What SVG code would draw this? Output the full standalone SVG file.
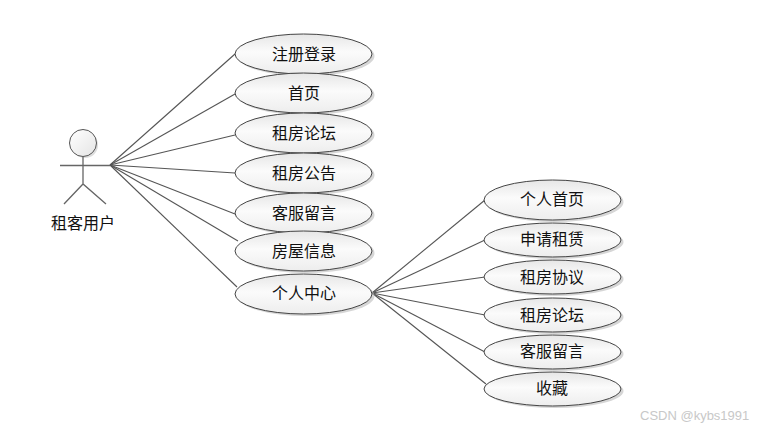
<svg xmlns="http://www.w3.org/2000/svg" width="764" height="428" viewBox="0 0 764 428">
<style>
text{font-family:"Noto Sans CJK SC","Liberation Sans",sans-serif;font-size:16px;fill:#111;text-anchor:middle}
.s{fill:#bbb;stroke:none;opacity:.6}
.e{fill:url(#g);stroke:#444;stroke-width:1}
.c line{stroke:#555;stroke-width:1.100}
.a{stroke:#666;stroke-width:1.300;fill:none}
.w{font-family:"Liberation Sans",sans-serif;font-size:13px;fill:#c8c8c8;text-anchor:start}
</style>
<defs>
<linearGradient id="g" x1="0" y1="0" x2="0" y2="1"><stop offset="0" stop-color="#e6e6e6"/><stop offset=".45" stop-color="#fbfbfb"/><stop offset="1" stop-color="#ededed"/></linearGradient>
<linearGradient id="h" x1="0" y1="0" x2="1" y2="1"><stop offset="0" stop-color="#fff"/><stop offset="1" stop-color="#e4e4e4"/></linearGradient>
</defs>
<rect width="764" height="428" fill="#fff"/>
<g class="c">
<line x1="110" y1="165" x2="235" y2="54"/>
<line x1="110" y1="165" x2="235" y2="94"/>
<line x1="110" y1="165" x2="235" y2="135"/>
<line x1="110" y1="165" x2="235" y2="173"/>
<line x1="110" y1="165" x2="235" y2="214"/>
<line x1="110" y1="165" x2="238" y2="241"/>
<line x1="110" y1="165" x2="237" y2="287"/>
<line x1="372" y1="293" x2="485" y2="200"/>
<line x1="372" y1="293" x2="485" y2="240"/>
<line x1="372" y1="293" x2="485" y2="277"/>
<line x1="372" y1="293" x2="485" y2="315"/>
<line x1="372" y1="293" x2="485" y2="352"/>
<line x1="372" y1="293" x2="486" y2="384"/>
</g>
<g id="actor">
<circle cx="85" cy="145" r="13" fill="#aaa" opacity=".4"/>
<circle cx="83" cy="143" r="13.500" fill="url(#h)" stroke="#555"/>
<path class="a" d="M83 157V185M60 165.500H110M64 204L83 184L106 204"/>
<text x="83" y="229">租客用户</text>
</g>
<g id="n1"><ellipse class="s" cx="306" cy="56" rx="68.500" ry="20"/><ellipse class="e" cx="303.500" cy="54" rx="68.500" ry="20"/><text x="304" y="60">注册登录</text></g>
<g id="n2"><ellipse class="s" cx="306" cy="95" rx="68.500" ry="20"/><ellipse class="e" cx="303.500" cy="93" rx="68.500" ry="20"/><text x="304" y="99">首页</text></g>
<g id="n3"><ellipse class="s" cx="306" cy="135" rx="68.500" ry="20"/><ellipse class="e" cx="303.500" cy="133" rx="68.500" ry="20"/><text x="304" y="139">租房论坛</text></g>
<g id="n4"><ellipse class="s" cx="306" cy="175" rx="68.500" ry="20"/><ellipse class="e" cx="303.500" cy="173" rx="68.500" ry="20"/><text x="304" y="179">租房公告</text></g>
<g id="n5"><ellipse class="s" cx="306" cy="215" rx="68.500" ry="20"/><ellipse class="e" cx="303.500" cy="213" rx="68.500" ry="20"/><text x="304" y="219">客服留言</text></g>
<g id="n6"><ellipse class="s" cx="306" cy="253" rx="68.500" ry="20"/><ellipse class="e" cx="303.500" cy="251" rx="68.500" ry="20"/><text x="304" y="257">房屋信息</text></g>
<g id="n7"><ellipse class="s" cx="306" cy="296" rx="68.500" ry="20"/><ellipse class="e" cx="303.500" cy="294" rx="68.500" ry="20"/><text x="304" y="299">个人中心</text></g>
<g id="m1"><ellipse class="s" cx="555" cy="202" rx="68.500" ry="20"/><ellipse class="e" cx="552.500" cy="200" rx="68.500" ry="20"/><text x="552" y="205">个人首页</text></g>
<g id="m2"><ellipse class="s" cx="555" cy="242" rx="68.500" ry="17"/><ellipse class="e" cx="552.500" cy="240" rx="68.500" ry="17"/><text x="552" y="245">申请租赁</text></g>
<g id="m3"><ellipse class="s" cx="555" cy="279" rx="68.500" ry="17"/><ellipse class="e" cx="552.500" cy="277" rx="68.500" ry="17"/><text x="552" y="283">租房协议</text></g>
<g id="m4"><ellipse class="s" cx="555" cy="317" rx="68.500" ry="17"/><ellipse class="e" cx="552.500" cy="315" rx="68.500" ry="17"/><text x="552" y="321">租房论坛</text></g>
<g id="m5"><ellipse class="s" cx="555" cy="354" rx="68.500" ry="17"/><ellipse class="e" cx="552.500" cy="352" rx="68.500" ry="17"/><text x="552" y="357">客服留言</text></g>
<g id="m6"><ellipse class="s" cx="555" cy="391" rx="68.500" ry="17"/><ellipse class="e" cx="552.500" cy="389" rx="68.500" ry="17"/><text x="552" y="394">收藏</text></g>
<text class="w" x="640" y="420">CSDN @kybs1991</text>
</svg>
